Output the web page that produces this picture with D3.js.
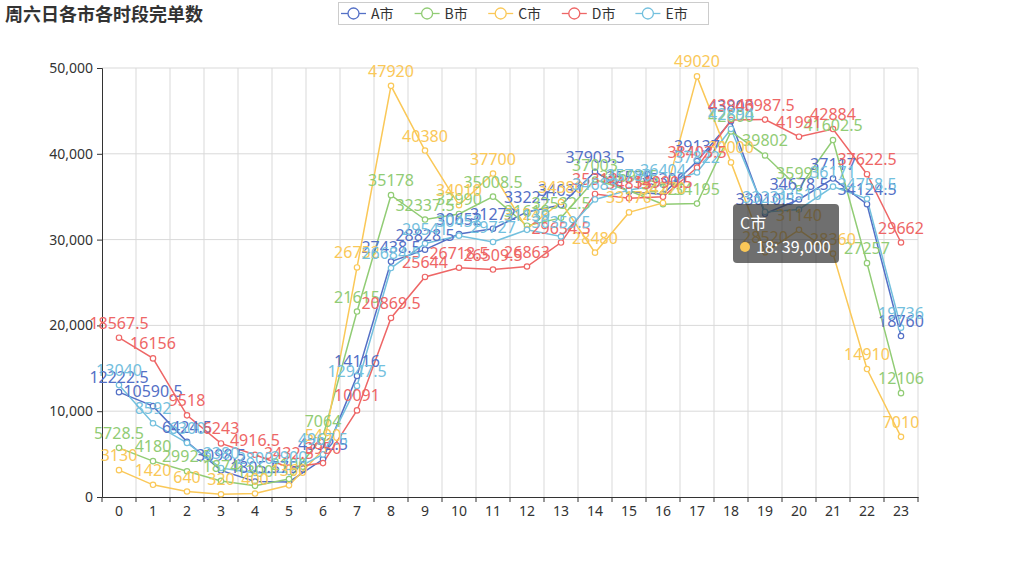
<!DOCTYPE html>
<html><head><meta charset="utf-8">
<script src="https://cdn.jsdelivr.net/npm/d3@7"></script>
<style>body{margin:0;background:#fff;font-family:"Microsoft YaHei","Noto Sans CJK SC","Noto Sans",sans-serif;}</style>
</head><body><svg id="c" width="1019" height="566"></svg>
<script>
const hours = ["0","1","2","3","4","5","6","7","8","9","10","11","12","13","14","15","16","17","18","19","20","21","22","23"];
const seriesNames = ["A市","B市","C市","D市","E市"];
const colors = ["#5470c6","#91cc75","#fac858","#ee6666","#73c0de"];
const cityA = [12222.5,10590.5,6424.5,3098.5,1805.5,1756,4392.5,14116,27438.5,28828.5,30652,31272,33224,34031,37903.5,35578,35300,39137,43800,33010.5,34678.5,37117,34124.5,18760];
const cityB = [5728.5,4180,2992.5,1874,1300,2100,7064,21615,35178,32337.5,32990,35008.5,31618,32532.5,37003,35692.5,34120,34195,42600,39802,35991,41602.5,27257,12106];
const cityC = [3130,1420,640,320,400,1360,5490,26752,47920,40380,34010,37700,31240,34380,28480,33170,34270,49020,39000,28520,31140,28360,14910,7010];
const cityD = [18567.5,16156,9518,6243,4916.5,3432.5,3950,10091,20869.5,25644,26718.5,26509.5,26863,29654.5,35318,34813,34990.5,38403.5,43946,43987.5,41991,42884,37622.5,29662];
const cityE = [13040,8592,6300,3380,2800,2900,4967.5,12947.5,26684.5,29541,30458,29727,31139,30359.5,34683,35780,36404,37822,42894,33231,33510,36171,34758.5,19736];
const yTicks = [0,10000,20000,30000,40000,50000];
const allSeries = [cityA,cityB,cityC,cityD,cityE];

const svg = d3.select("#c");
const L=102,R=918,T=68,B=497;
const x = d3.scaleBand().domain(hours).range([L,R]);
const y = d3.scaleLinear().domain([0,50000]).range([B,T]);
const cx = h => x(h)+x.bandwidth()/2;
const FF = "'Microsoft YaHei','Noto Sans',sans-serif";

// grid
svg.append("g").selectAll("line").data(yTicks.slice(1)).join("line")
  .attr("x1",L).attr("x2",R).attr("y1",d=>y(d)).attr("y2",d=>y(d)).attr("stroke","#d9d9d9");
const bounds = hours.map(h=>x(h)).concat([R]);
svg.append("g").selectAll("line").data(bounds.slice(1)).join("line")
  .attr("x1",d=>d).attr("x2",d=>d).attr("y1",T).attr("y2",B).attr("stroke","#d9d9d9");

// axes
const yAx = svg.append("g").attr("transform",`translate(${L},0)`)
  .call(d3.axisLeft(y).tickValues(yTicks).tickFormat(d3.format(",")).tickSize(5).tickPadding(4));
yAx.select(".domain").attr("stroke","#333");
yAx.selectAll("line").attr("stroke","#333");
yAx.selectAll("text").attr("fill","#333").style("font-size","14px").style("font-family",FF);
const xAx = svg.append("g").attr("transform",`translate(0,${B})`)
  .call(d3.axisBottom(x).tickSize(0).tickPadding(9));
xAx.select(".domain").attr("stroke","#333");
xAx.selectAll("text").attr("fill","#333").style("font-size","14px").style("font-family",FF);
xAx.append("g").selectAll("line").data(bounds).join("line")
  .attr("x1",d=>d).attr("x2",d=>d).attr("y1",0).attr("y2",5).attr("stroke","#333");

// lines
const line = d3.line().x((d,i)=>cx(hours[i])).y(d=>y(d));
allSeries.forEach((s,k)=>{
  svg.append("path").attr("d",line(s)).attr("fill","none").attr("stroke",colors[k]).attr("stroke-width",1.5);
});
allSeries.forEach((s,k)=>{
  svg.append("g").selectAll("circle").data(s).join("circle")
    .attr("cx",(d,i)=>cx(hours[i])).attr("cy",d=>y(d)).attr("r",2.7)
    .attr("fill","#fff").attr("stroke",colors[k]).attr("stroke-width",1.2);
});
allSeries.forEach((s,k)=>{
  svg.append("g").selectAll("text").data(s).join("text")
    .attr("x",(d,i)=>cx(hours[i])).attr("y",d=>y(d)-9)
    .attr("text-anchor","middle").attr("fill",colors[k])
    .style("font-size","16px").style("font-family",FF)
    .text(d=>d);
});

// title
svg.append("text").attr("x",5).attr("y",21).text("周六日各市各时段完单数")
  .attr("fill","#333").style("font-size","18px").style("font-weight","bold");

// legend
svg.append("rect").attr("x",338.5).attr("y",2.5).attr("width",370).attr("height",22)
  .attr("fill","#fff").attr("stroke","#ccc");
seriesNames.forEach((n,k)=>{
  const lx = 341 + k*73.6, ly = 13.5;
  const g = svg.append("g");
  g.append("line").attr("x1",lx).attr("x2",lx+25).attr("y1",ly).attr("y2",ly).attr("stroke",colors[k]).attr("stroke-width",1.3);
  g.append("circle").attr("cx",lx+12.5).attr("cy",ly).attr("r",5.5).attr("fill","#fff").attr("stroke",colors[k]).attr("stroke-width",1.3);
  g.append("text").attr("x",lx+30).attr("y",ly+5).text(n).attr("fill","#333").style("font-size","14px");
});

// tooltip
const tg = svg.append("g");
tg.append("rect").attr("x",733).attr("y",204).attr("width",106).attr("height",59).attr("rx",4)
  .attr("fill","rgba(50,50,50,0.7)");
tg.append("text").attr("x",740).attr("y",229).text(seriesNames[2]).attr("fill","#fff").style("font-size","16px");
tg.append("circle").attr("cx",745).attr("cy",247).attr("r",5).attr("fill",colors[2]);
tg.append("text").attr("x",756).attr("y",253).text(hours[18]+": "+d3.format(",")(cityC[18])).attr("fill","#fff").style("font-size","16px");
</script></body></html>
